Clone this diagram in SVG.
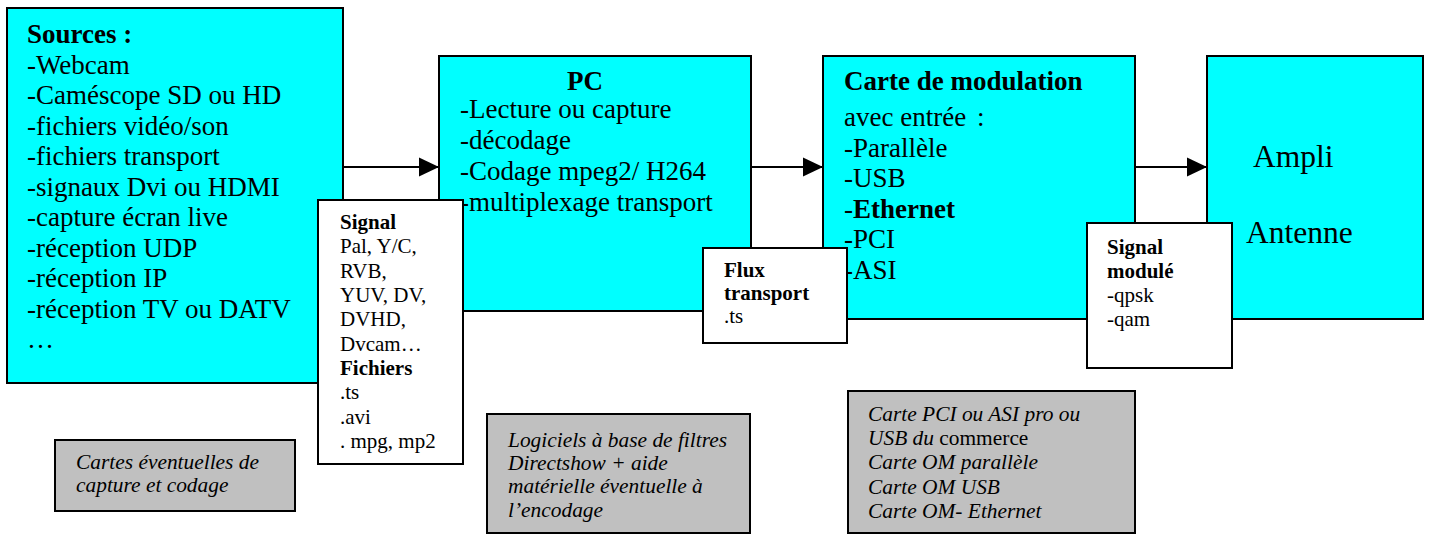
<svg xmlns="http://www.w3.org/2000/svg" width="1430" height="536" viewBox="0 0 1430 536">
<style>
text{font-family:"Liberation Serif","Times New Roman",serif;fill:#000}
.big{font-size:27px}
.sm{font-size:21px}
.it{font-size:21.4px;font-style:italic}
.b{font-weight:bold}
.cy{fill:#00FFFF;stroke:#000;stroke-width:2}
.wh{fill:#FFFFFF;stroke:#000;stroke-width:2}
.gr{fill:#C0C0C0;stroke:#000;stroke-width:2}
.ln{stroke:#000;stroke-width:2;fill:none}
</style>
<defs>
<marker id="ah" markerUnits="userSpaceOnUse" markerWidth="20" markerHeight="20" refX="20" refY="10" orient="auto">
<path d="M0,0.5 L20,10 L0,19.5 Z" fill="#000"/>
</marker>
</defs>
<g id="connectors">
<line class="ln" x1="343" y1="167" x2="439" y2="167" marker-end="url(#ah)"/>
<line class="ln" x1="751" y1="167" x2="823" y2="167" marker-end="url(#ah)"/>
<line class="ln" x1="1135" y1="167" x2="1207" y2="167" marker-end="url(#ah)"/>
</g>
<g id="sources">
<rect class="cy" x="7" y="8" width="336" height="375"/>
<text class="big" x="27"><tspan class="b" x="27" y="43">Sources :</tspan><tspan x="27" y="73.5">-Webcam</tspan><tspan x="27" y="104">-Caméscope SD ou HD</tspan><tspan x="27" y="134.5">-fichiers vidéo/son</tspan><tspan x="27" y="165">-fichiers transport</tspan><tspan x="27" y="195.5">-signaux Dvi ou HDMI</tspan><tspan x="27" y="226">-capture écran live</tspan><tspan x="27" y="256.5">-réception UDP</tspan><tspan x="27" y="287">-réception IP</tspan><tspan x="27" y="317.5">-réception TV ou DATV</tspan><tspan x="27" y="348">…</tspan></text>
</g>
<g id="pc">
<rect class="cy" x="439" y="56" width="312" height="255"/>
<text class="big b" x="585" y="90" text-anchor="middle">PC</text>
<text class="big"><tspan x="460" y="118">-Lecture ou capture</tspan><tspan x="460" y="149">-décodage</tspan><tspan x="460" y="180">-Codage mpeg2/ H264</tspan><tspan x="460" y="211">-multiplexage transport</tspan></text>
</g>
<g id="signal">
<rect class="wh" x="318" y="200" width="145" height="264"/>
<text class="sm"><tspan class="b" x="340" y="229">Signal</tspan><tspan x="340" y="253">Pal, Y/C,</tspan><tspan x="340" y="277.5">RVB,</tspan><tspan x="340" y="302">YUV, DV,</tspan><tspan x="340" y="326">DVHD,</tspan><tspan x="340" y="350.5">Dvcam…</tspan><tspan class="b" x="340" y="375">Fichiers</tspan><tspan x="340" y="399">.ts</tspan><tspan x="340" y="423.5">.avi</tspan><tspan x="340" y="448">. mpg, mp2</tspan></text>
</g>
<g id="modulation">
<rect class="cy" x="823" y="56" width="312" height="263"/>
<text class="big"><tspan class="b" x="844" y="90">Carte de modulation</tspan><tspan x="844" y="126">avec entrée <tspan dx="4">:</tspan></tspan><tspan x="844" y="157">-Parallèle</tspan><tspan x="844" y="187">-USB</tspan><tspan x="844" y="218">-<tspan class="b">Ethernet</tspan></tspan><tspan x="844" y="248">-PCI</tspan><tspan x="844" y="279">-ASI</tspan></text>
</g>
<g id="flux">
<rect class="wh" x="703" y="248" width="144" height="95"/>
<text class="sm"><tspan class="b" x="724" y="277">Flux</tspan><tspan class="b" x="724" y="300">transport</tspan><tspan x="724" y="323">.ts</tspan></text>
</g>
<g id="ampli">
<rect class="cy" x="1207" y="56" width="216" height="263"/>
<text style="font-size:31.5px"><tspan x="1253" y="167">Ampli</tspan><tspan x="1246" y="243">Antenne</tspan></text>
</g>
<g id="signal-module">
<rect class="wh" x="1087" y="223" width="145" height="145"/>
<text class="sm"><tspan class="b" x="1107" y="254">Signal</tspan><tspan class="b" x="1107" y="278">modulé</tspan><tspan x="1107" y="302">-qpsk</tspan><tspan x="1107" y="326">-qam</tspan></text>
</g>
<g id="note-cartes">
<rect class="gr" x="55" y="440" width="240" height="71"/>
<text class="it"><tspan x="76" y="469">Cartes éventuelles de</tspan><tspan x="76" y="492">capture et codage</tspan></text>
</g>
<g id="note-logiciels">
<rect class="gr" x="487" y="414" width="263" height="119"/>
<text class="it"><tspan x="508" y="447">Logiciels à base de filtres</tspan><tspan x="508" y="470">Directshow + aide</tspan><tspan x="508" y="493">matérielle éventuelle à</tspan><tspan x="508" y="517">l’encodage</tspan></text>
</g>
<g id="note-cartes-pci">
<rect class="gr" x="848" y="391" width="287" height="142"/>
<text class="it"><tspan x="868" y="421">Carte PCI ou ASI pro ou</tspan><tspan x="868" y="445">USB du <tspan style="font-style:normal">commerce</tspan></tspan><tspan x="868" y="469">Carte OM parallèle</tspan><tspan x="868" y="494">Carte OM USB</tspan><tspan x="868" y="518">Carte OM- Ethernet</tspan></text>
</g>
</svg>
